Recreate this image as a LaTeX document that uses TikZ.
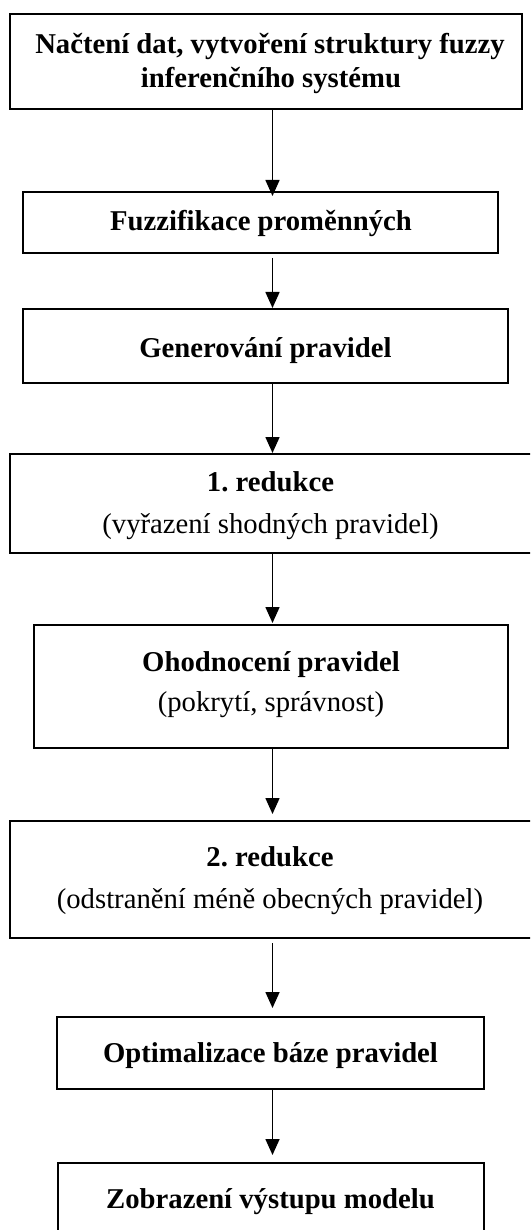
\documentclass[tikz,border=0pt]{standalone}
\usepackage{fontspec}
\setmainfont{Liberation Serif}
\usetikzlibrary{arrows.meta}
\frenchspacing
\begin{document}
\begin{tikzpicture}[x=1pt,y=-1pt,
  box/.style={draw=black, line width=1.6pt, rectangle, inner sep=0pt, outer sep=0pt},
  lbl/.style={anchor=base, inner sep=0pt, font=\fontsize{28.7}{34}\selectfont},
  blbl/.style={lbl, font=\fontsize{28.7}{34}\selectfont\bfseries},
  conn/.style={line width=1.6pt, -{Triangle[length=16pt,width=14pt]}}]
\useasboundingbox (0,0) rectangle (530,1230);
\clip (0,0) rectangle (530,1230);
\coordinate (ax) at (272.5,0);
% boxes
\node[box, minimum width=512pt, minimum height=95pt]  (b1) at (266,61.5) {};
\node[box, minimum width=475pt, minimum height=61pt]  (b2) at (260.5,222.5) {};
\node[box, minimum width=485pt, minimum height=74pt]  (b3) at (265.5,346) {};
\node[box, minimum width=522pt, minimum height=99pt]  (b4) at (271,503.5) {};
\node[box, minimum width=474pt, minimum height=123pt] (b5) at (271,686.5) {};
\node[box, minimum width=522pt, minimum height=117pt] (b6) at (271,879.5) {};
\node[box, minimum width=427pt, minimum height=72pt]  (b7) at (270.5,1053) {};
\node[box, minimum width=426pt, minimum height=77pt]  (b8) at (271,1201.5) {};
% texts
\node[blbl] (t1a) at (270,53.3) {Načtení dat, vytvoření struktury fuzzy};
\node[blbl] (t1b) at (271,87.3) {inferenčního systému};
\node[blbl] (t2) at (261,231) {Fuzzifikace proměnných};
\node[blbl] (t3) at (265.5,357) {Generování pravidel};
\node[blbl] (t4a) at (270.5,491.5) {1. redukce};
\node[lbl]  (t4b) at (270.5,533) {(vyřazení shodných pravidel)};
\node[blbl] (t5a) at (271,671.7) {Ohodnocení pravidel};
\node[lbl]  (t5b) at (271,711.7) {(pokrytí, správnost)};
\node[blbl] (t6a) at (270,866.7) {2. redukce};
\node[lbl]  (t6b) at (270,908.3) {(odstranění méně obecných pravidel)};
\node[blbl] (t7) at (270.5,1062) {Optimalizace báze pravidel};
\node[blbl] (t8) at (270.5,1208) {Zobrazení výstupu modelu};
% connectors
\draw[conn, shorten >=-4pt] (b1.south -| ax) -- (b2.north -| ax);
\draw[conn, shorten <=5pt, shorten >=1pt] (b2.south -| ax) -- (b3.north -| ax);
\draw[conn, shorten >=1pt] (b3.south -| ax) -- (b4.north -| ax);
\draw[conn, shorten >=2pt] (b4.south -| ax) -- (b5.north -| ax);
\draw[conn, shorten >=7pt] (b5.south -| ax) -- (b6.north -| ax);
\draw[conn, shorten <=5pt, shorten >=9pt] (b6.south -| ax) -- (b7.north -| ax);
\draw[conn, shorten >=8pt] (b7.south -| ax) -- (b8.north -| ax);
\end{tikzpicture}
\end{document}
